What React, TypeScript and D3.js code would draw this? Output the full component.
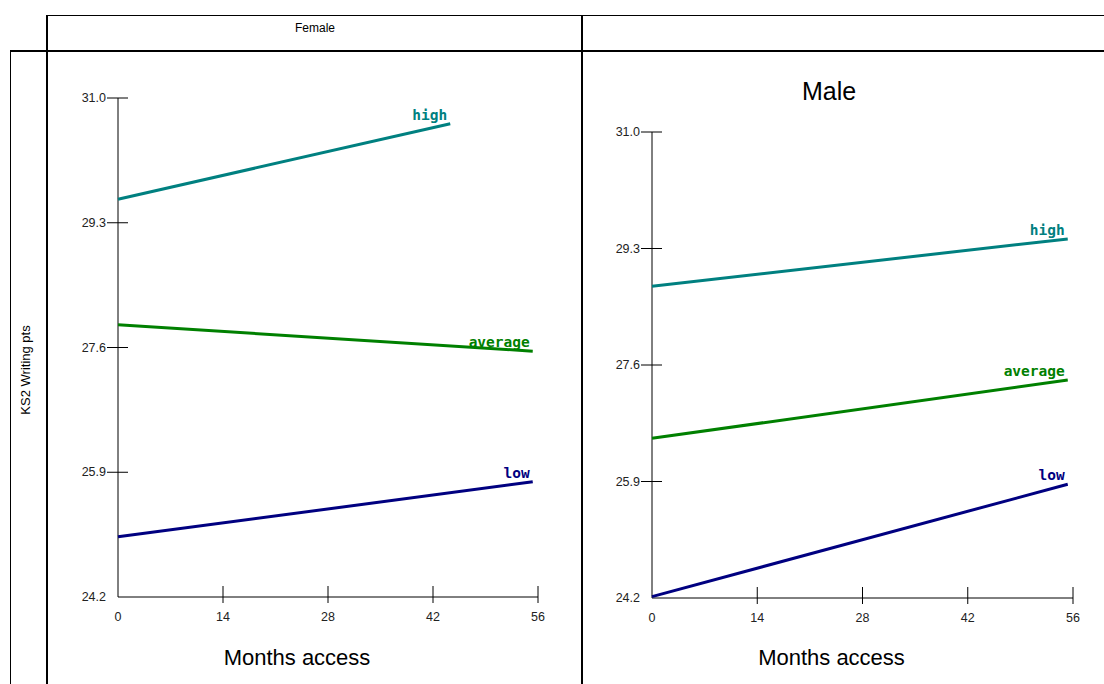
import React from "react";
import * as d3 from "d3";

const panelNames = ["Female", "Male"];
const seriesNames = ["high", "average", "low"];
const seriesColors = ["#008080", "#008000", "#000080"];
const yTicks = [24.2, 25.9, 27.6, 29.3, 31.0];
const xTicks = [0, 14, 28, 42, 56];

// [month, score] points per series
const femaleHigh: [number, number][] = [[0, 29.62], [44.3, 30.65]];
const femaleAverage: [number, number][] = [[0, 27.91], [55.3, 27.55]];
const femaleLow: [number, number][] = [[0, 25.02], [55.3, 25.77]];
const maleHigh: [number, number][] = [[0, 28.75], [55.3, 29.44]];
const maleAverage: [number, number][] = [[0, 26.53], [55.3, 27.38]];
const maleLow: [number, number][] = [[0, 24.22], [55.3, 25.86]];

const panelData = [
  [femaleHigh, femaleAverage, femaleLow],
  [maleHigh, maleAverage, maleLow],
];

const layouts = [
  { x0: 118, x1: 538, yTop: 98, yBot: 597, title: null as string | null, titleX: 0 },
  { x0: 652, x1: 1073, yTop: 132, yBot: 598, title: "Male", titleX: 829 },
];

const sans = "'Liberation Sans', Arial, sans-serif";
const mono = "'DejaVu Sans Mono', monospace";

function Panel({ idx }: { idx: number }) {
  const L = layouts[idx];
  const x = d3.scaleLinear().domain([0, 56]).range([L.x0, L.x1]);
  const y = d3.scaleLinear().domain([24.2, 31.0]).range([L.yBot, L.yTop]);
  const line = d3
    .line<[number, number]>()
    .x((d) => x(d[0]))
    .y((d) => y(d[1]));
  const series = panelData[idx];
  return (
    <g>
      {L.title && (
        <text x={L.titleX} y={L.yTop - 32} textAnchor="middle" fontFamily={sans} fontSize={25} fill="#000">
          {L.title}
        </text>
      )}
      <line x1={x(0)} x2={x(0)} y1={y(31)} y2={y(24.2)} stroke="#000" strokeWidth={1} />
      <line x1={x(0)} x2={x(56)} y1={y(24.2)} y2={y(24.2)} stroke="#000" strokeWidth={1} />
      {yTicks.map((t) => (
        <g key={"y" + t}>
          {t !== 24.2 && (
            <line x1={x(0) - 11} x2={x(0) + 10} y1={y(t)} y2={y(t)} stroke="#000" strokeWidth={1} />
          )}
          <text
            x={x(0) - 12}
            y={y(t) + 4}
            textAnchor="end"
            fontFamily={sans}
            fontSize={12.5}
            fill="#222"
          >
            {t.toFixed(1)}
          </text>
        </g>
      ))}
      {xTicks.map((t) => (
        <g key={"x" + t}>
          {t !== 0 && (
            <line x1={x(t)} x2={x(t)} y1={y(24.2) - 11} y2={y(24.2) + 6} stroke="#000" strokeWidth={1} />
          )}
          <text x={x(t)} y={y(24.2) + 24} textAnchor="middle" fontFamily={sans} fontSize={12.5} fill="#222">
            {t}
          </text>
        </g>
      ))}
      <text
        x={(L.x0 + L.x1) / 2 - 31}
        y={665}
        textAnchor="middle"
        fontFamily={sans}
        fontSize={22}
        fill="#000"
      >
        Months access
      </text>
      {series.map((pts, i) => {
        const end = pts[pts.length - 1];
        return (
          <g key={seriesNames[i]}>
            <path d={line(pts) || ""} fill="none" stroke={seriesColors[i]} strokeWidth={3} />
            <text
              x={x(end[0]) - 3}
              y={y(end[1]) - 4}
              textAnchor="end"
              fontFamily={mono}
              fontWeight="bold"
              fontSize={14.5}
              fill={seriesColors[i]}
            >
              {seriesNames[i]}
            </text>
          </g>
        );
      })}
    </g>
  );
}

export default function App() {
  return (
    <svg
      width={1104}
      height={684}
      style={{ position: "absolute", left: 0, top: 0, background: "#fff" }}
    >
      <rect x={0} y={0} width={1104} height={684} fill="#fff" />
      {/* frame */}
      <line x1={47} x2={1104} y1={15.5} y2={15.5} stroke="#000" strokeWidth={1} />
      <line x1={10} x2={1104} y1={51} y2={51} stroke="#000" strokeWidth={2} />
      <line x1={10.5} x2={10.5} y1={51} y2={684} stroke="#000" strokeWidth={1} />
      <line x1={47} x2={47} y1={15} y2={684} stroke="#000" strokeWidth={2} />
      <line x1={582} x2={582} y1={15} y2={684} stroke="#000" strokeWidth={2} />
      <text x={315} y={32} textAnchor="middle" fontFamily={sans} fontSize={12} fill="#000">
        {panelNames[0]}
      </text>
      <text
        transform="translate(30,370) rotate(-90)"
        textAnchor="middle"
        fontFamily={sans}
        fontSize={13}
        fill="#000"
      >
        KS2 Writing pts
      </text>
      <Panel idx={0} />
      <Panel idx={1} />
    </svg>
  );
}
